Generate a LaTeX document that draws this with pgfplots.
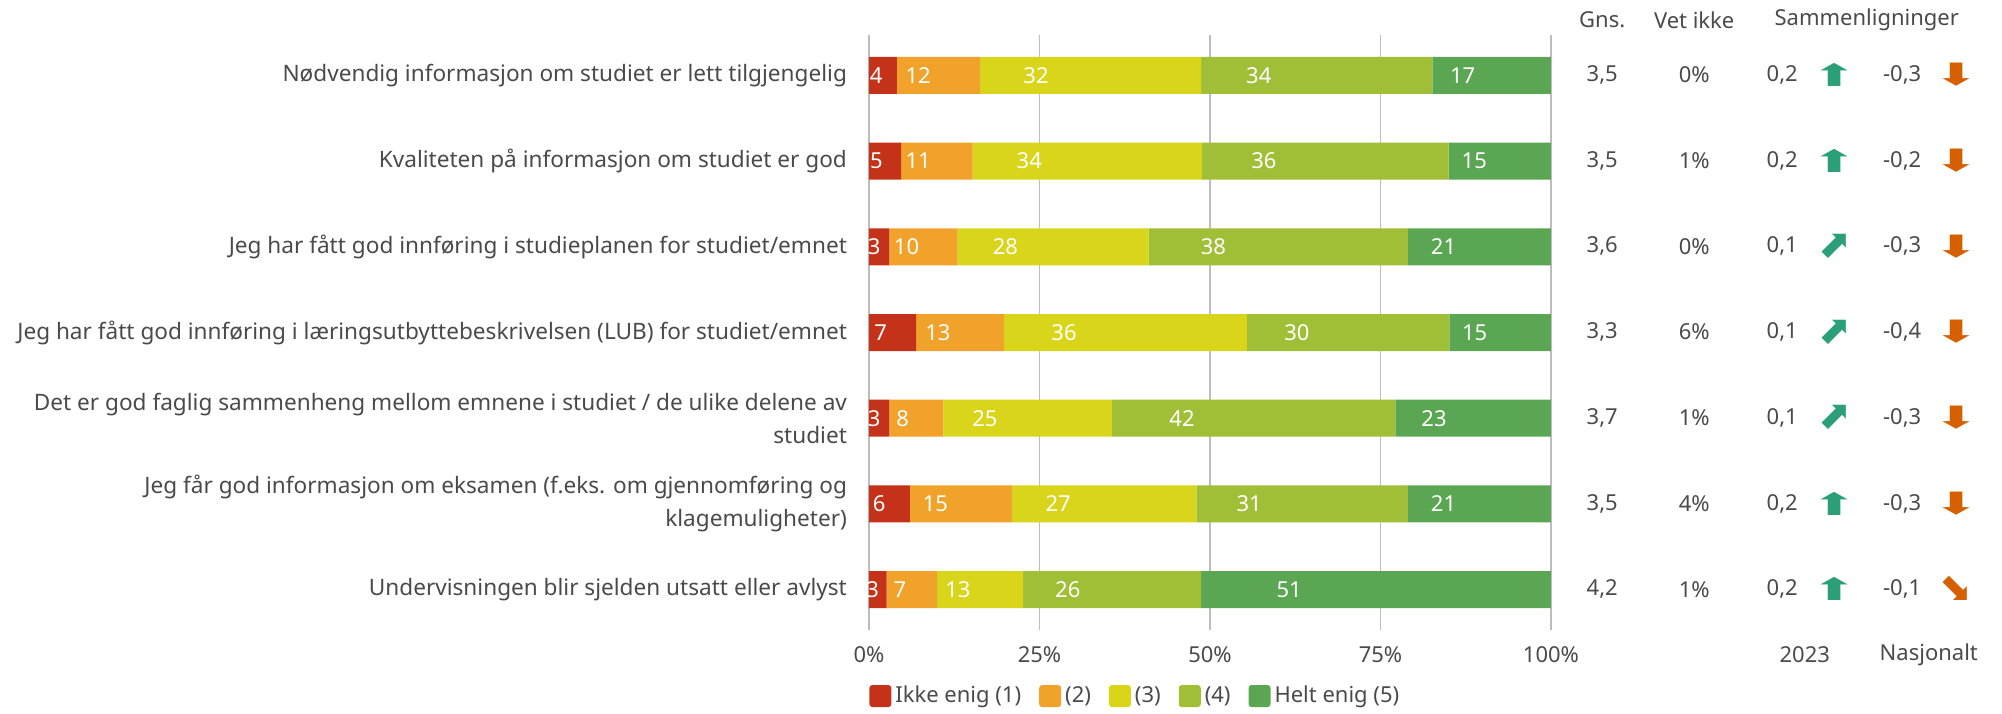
\documentclass[border=0pt]{standalone}
\usepackage{fontspec}
\setmainfont{Noto Sans}
\newfontfamily\arrowfont{DejaVu Sans}
\usepackage{graphicx}
\usepackage{pgfplots}
\usepackage{pgfplotstable}
\pgfplotsset{compat=1.18}

\definecolor{txt}{HTML}{4A4A4A}
\definecolor{gridc}{HTML}{BDBDBD}
\definecolor{c1}{HTML}{C4321A}
\definecolor{c2}{HTML}{F0A22B}
\definecolor{c3}{HTML}{D9D51B}
\definecolor{c4}{HTML}{A0BF37}
\definecolor{c5}{HTML}{5AA653}
\definecolor{up}{HTML}{2A9F78}
\definecolor{dn}{HTML}{D65F00}

% bar widths are the shares scaled to 100; l1..l5 are the printed percentages
\pgfplotstableread{
row v1   v2   v3   v4   v5   l1 l2 l3 l4 l5
1   4.1  12.2 32.4 33.9 17.4 4  12 32 34 17
2   4.7  10.5 33.6 36.2 15.0 5  11 34 36 15
3   3.0  10.0 28.0 38.0 21.0 3  10 28 38 21
4   6.9  12.9 35.6 29.7 14.9 7  13 36 30 15
5   3.0  7.9  24.7 41.6 22.8 3  8  25 42 23
6   6.0  15.0 27.0 31.0 21.0 6  15 27 31 21
7   2.6  7.4  12.6 26.1 51.3 3  7  13 26 51
}\bars

\newcommand\fnt{\fontsize{11}{12}\selectfont}
\newcommand\upar{\scalebox{2.5}[1.4]{\arrowfont ⬆}}
\newcommand\nearr{\scalebox{1.8}{\arrowfont ⬈}}
\newcommand\dnar{\scalebox{2.5}[1.4]{\arrowfont ⬇}}
\newcommand\sear{\scalebox{1.8}{\arrowfont ⬊}}

\begin{document}
\begin{tikzpicture}
\begin{axis}[
    xbar stacked,
    scale only axis,
    width=341pt, height=297.5pt,
    xmin=0, xmax=100,
    ymin=0.53, ymax=7.47,
    y dir=reverse,
    bar width=18.5pt,
    axis line style={draw=none},
    tick style={draw=none},
    xmajorgrids,
    major grid style={gridc, line width=0.7pt},
    xtick={0,25,50,75,100},
    xticklabels={0\%,25\%,50\%,75\%,100\%},
    xticklabel style={anchor=center, yshift=-12.5pt, text=txt, font=\fnt},
    ytick={1,...,7},
    yticklabels={
        {Nødvendig informasjon om studiet er lett tilgjengelig},
        {Kvaliteten på informasjon om studiet er god},
        {Jeg har fått god innføring i studieplanen for studiet/emnet},
        {Jeg har fått god innføring i læringsutbyttebeskrivelsen (LUB) for studiet/emnet},
        {Det er god faglig sammenheng mellom emnene i studiet / de ulike delene av\\studiet},
        {Jeg får god informasjon om eksamen (f.eks. om gjennomføring og\\klagemuligheter)},
        {Undervisningen blir sjelden utsatt eller avlyst}},
    yticklabel style={align=right, text=txt, xshift=-7.5pt, font=\fontsize{11.3}{16.5}\selectfont},
    point meta=explicit symbolic,
    nodes near coords,
    every node near coord/.append style={anchor=center, text=white,
        font=\fnt, xshift={-0.8525pt*\pgfplotspointmeta}},
    clip=false,
    legend style={at={(0,-0.111)}, anchor=west, draw=none, fill=none, inner sep=0pt,
        font=\fnt, text=txt,
        /tikz/every even column/.append style={column sep=7pt}},
    legend columns=-1,
    legend image code/.code={\fill[rounded corners=1.5pt] (0pt,-5.5pt) rectangle (11pt,5.5pt);},
]
\addplot[fill=c1, draw=none] table[x=v1, y=row, meta=l1]{\bars};
\addlegendentry{Ikke enig (1)}
\addplot[fill=c2, draw=none] table[x=v2, y=row, meta=l2]{\bars};
\addlegendentry{(2)}
\addplot[fill=c3, draw=none] table[x=v3, y=row, meta=l3]{\bars};
\addlegendentry{(3)}
\addplot[fill=c4, draw=none] table[x=v4, y=row, meta=l4]{\bars};
\addlegendentry{(4)}
\addplot[fill=c5, draw=none] table[x=v5, y=row, meta=l5]{\bars};
\addlegendentry{Helt enig (5)}
\end{axis}

% columns to the right of the bars
\begin{scope}[every node/.style={text=txt, font=\fnt, anchor=center}]
\node at (366.6pt,305pt) {Gns.};
\node at (412.6pt,305pt) {Vet ikke};
\node at (498.9pt,305pt) {Sammenligninger};
\node at (467.9pt,-12.5pt) {2023};
\node at (529.9pt,-12.5pt) {Nasjonalt};
\foreach \r/\g/\v/\a/\sa/\n/\sn in {
    1/3{,}5/0/0{,}2/\upar/-0{,}3/\dnar,
    2/3{,}5/1/0{,}2/\upar/-0{,}2/\dnar,
    3/3{,}6/0/0{,}1/\nearr/-0{,}3/\dnar,
    4/3{,}3/6/0{,}1/\nearr/-0{,}4/\dnar,
    5/3{,}7/1/0{,}1/\nearr/-0{,}3/\dnar,
    6/3{,}5/4/0{,}2/\upar/-0{,}3/\dnar,
    7/4{,}2/1/0{,}2/\upar/-0{,}1/\sear}{
  \pgfmathsetmacro\yy{277.5-(\r-1)*42.85}
  \node at (366.6pt,\yy pt) {\g};
  \node at (412.6pt,\yy pt) {\v\%};
  \node at (456.6pt,\yy pt) {\a};
  \node[text=up] at (482.9pt,\yy pt) {\sa};
  \node at (516.6pt,\yy pt) {\n};
  \node[text=dn] at (543.6pt,\yy pt) {\sn};
}
\end{scope}

\pgfresetboundingbox
\path[use as bounding box] (-434.5pt,-41.5pt) rectangle (566.5pt,315pt);
\end{tikzpicture}
\end{document}
